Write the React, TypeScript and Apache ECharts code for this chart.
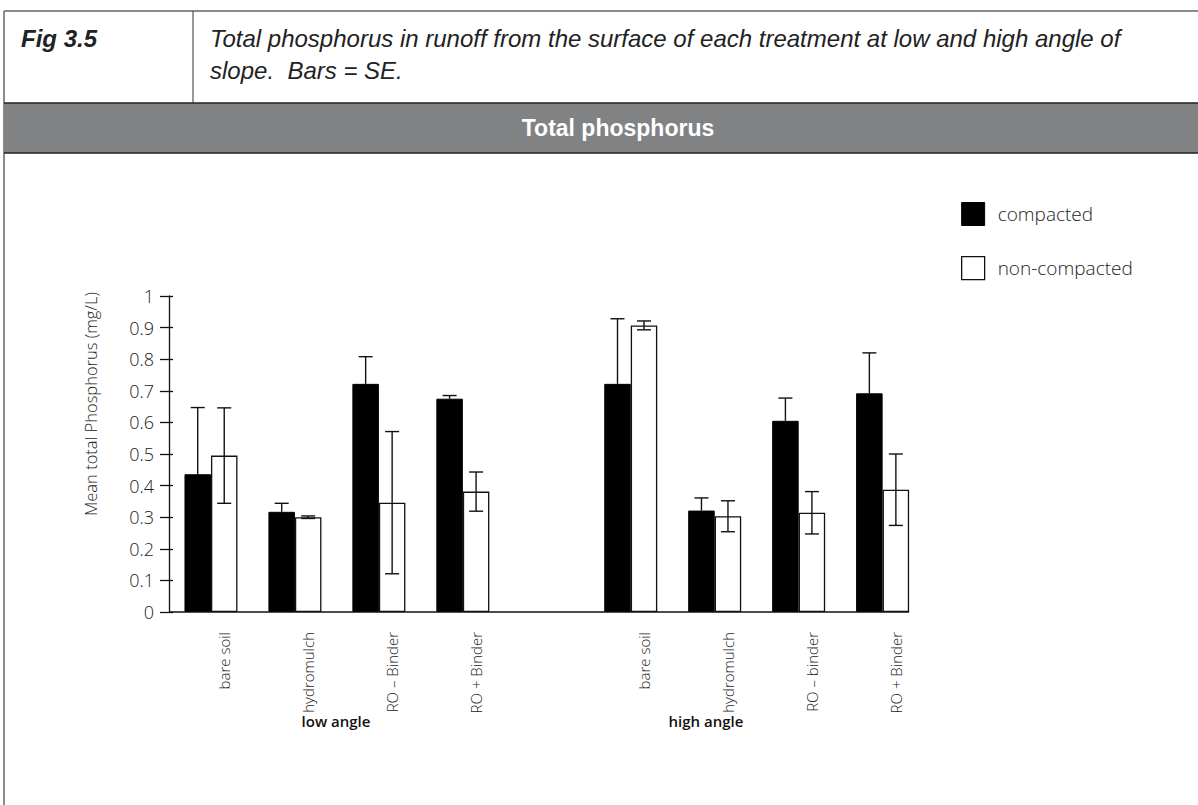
import React, { useEffect, useRef } from "react";
import * as echarts from "echarts";

const categories = ["bare soil", "hydromulch", "RO – Binder", "RO + Binder", "", "bare soil", "hydromulch", "RO – binder", "RO + Binder"];
const compacted = [0.436, 0.317, 0.722, 0.675, null, 0.722, 0.321, 0.605, 0.692];
const seCompacted = [0.211, 0.027, 0.086, 0.010, null, 0.206, 0.040, 0.072, 0.128];
const nonCompacted = [0.495, 0.300, 0.346, 0.381, null, 0.907, 0.303, 0.314, 0.387];
const seNonCompacted = [0.151, 0.004, 0.225, 0.062, null, 0.014, 0.049, 0.067, 0.113];
const seriesNames = ["compacted", "non-compacted"];
const groupLabels = ["low angle", "high angle"];
const yAxisTitle = "Mean total Phosphorus (mg/L)";
const figLabel = "Fig 3.5";
const captionLines = [
  "Total phosphorus in runoff from the surface of each treatment at low and high angle of",
  "slope.  Bars = SE.",
];
const chartTitle = "Total phosphorus";

const BAR_W = 26.5;
const LIGHT = "'Open Sans', 'Noto Sans', sans-serif";
const ARIAL = "'Liberation Sans', Arial, sans-serif";

function errSeries(name: string, vals: (number | null)[], ses: (number | null)[], offset: number, upperOnly: boolean) {
  const data: number[][] = [];
  vals.forEach((v, i) => {
    if (v != null && ses[i] != null) data.push([i, v, ses[i] as number]);
  });
  return {
    type: "custom",
    name,
    z: 10,
    data,
    encode: { x: 0, y: 1 },
    renderItem: (params: any, api: any) => {
      const x = api.value(0);
      const v = api.value(1);
      const se = api.value(2);
      const top = api.coord([x, v + se]);
      const bot = api.coord([x, upperOnly ? v : v - se]);
      const cx = top[0] + offset;
      const cap = 7;
      const st = { stroke: "#111", lineWidth: 1.4 };
      const children: any[] = [
        { type: "line", shape: { x1: cx, y1: top[1], x2: cx, y2: bot[1] }, style: st },
        { type: "line", shape: { x1: cx - cap, y1: top[1], x2: cx + cap, y2: top[1] }, style: st },
      ];
      if (!upperOnly) children.push({ type: "line", shape: { x1: cx - cap, y1: bot[1], x2: cx + cap, y2: bot[1] }, style: st });
      return { type: "group", children };
    },
  };
}

function labelSeries() {
  return {
    type: "custom",
    name: "category-labels",
    z: 10,
    silent: true,
    data: categories.map((c, i) => [i, 0]),
    encode: { x: 0, y: 1 },
    renderItem: (params: any, api: any) => {
      const i = api.value(0);
      const p = api.coord([i, 0]);
      return {
        type: "text",
        x: p[0] + 13,
        y: p[1] + 20,
        rotation: Math.PI / 2,
        style: {
          text: categories[i],
          fontFamily: LIGHT,
          fontSize: 15,
          fontWeight: 300,
          fill: "#222",
          textAlign: "right",
          textVerticalAlign: "middle",
        },
      };
    },
  };
}

export default function App() {
  const ref = useRef<HTMLDivElement>(null);
  useEffect(() => {
    if (!ref.current) return;
    const chart = echarts.init(ref.current, undefined, { renderer: "svg" });
    const yAxisBase = { type: "value", min: 0, max: 1, interval: 0.1, splitLine: { show: false } };
    const option: any = {
      animation: false,
      backgroundColor: "#fff",
      grid: { left: 169, top: 296, width: 755.6, height: 316 },
      legend: {
        orient: "vertical",
        left: 956,
        top: 197,
        itemWidth: 23,
        itemHeight: 23,
        itemGap: 30,
        icon: "rect",
        textStyle: { fontSize: 19, lineHeight: 23, color: "#222", fontFamily: LIGHT, fontWeight: 300, padding: [0, 0, 0, 8] },
        data: [
          { name: seriesNames[0], itemStyle: { color: "#000", borderColor: "#000", borderWidth: 1 } },
          { name: seriesNames[1], itemStyle: { color: "#fff", borderColor: "#111", borderWidth: 1.3 } },
        ],
      },
      xAxis: {
        type: "category",
        data: categories,
        axisLine: { show: false },
        axisTick: { show: false },
        axisLabel: { show: false },
      },
      yAxis: [
        {
          ...yAxisBase,
          axisLine: { show: true, lineStyle: { color: "#111", width: 1.3 } },
          axisTick: { show: true, length: 9, lineStyle: { color: "#111", width: 1.3 } },
          axisLabel: { margin: 15, fontSize: 18, color: "#222", fontFamily: LIGHT, fontWeight: 300 },
        },
        {
          ...yAxisBase,
          position: "left",
          axisLine: { show: false },
          axisTick: { show: true, inside: true, length: 4, lineStyle: { color: "#111", width: 1.3 } },
          axisLabel: { show: false },
        },
      ],
      series: [
        {
          type: "bar",
          name: seriesNames[0],
          data: compacted.map((v) => (v == null ? "-" : v)),
          barWidth: BAR_W,
          barGap: "0%",
          itemStyle: { color: "#000", borderColor: "#000", borderWidth: 1 },
        },
        {
          type: "bar",
          name: seriesNames[1],
          data: nonCompacted.map((v) => (v == null ? "-" : v)),
          barWidth: BAR_W,
          barGap: "0%",
          itemStyle: { color: "#fff", borderColor: "#111", borderWidth: 1.3 },
        },
        errSeries("se-compacted", compacted, seCompacted, -BAR_W / 2, true),
        errSeries("se-non-compacted", nonCompacted, seNonCompacted, BAR_W / 2, false),
        labelSeries(),
      ],
    };
    chart.setOption(option);

    const p0 = chart.convertToPixel({ xAxisIndex: 0 }, 0) as number;
    const p1 = chart.convertToPixel({ xAxisIndex: 0 }, 1) as number;
    const pLast = chart.convertToPixel({ xAxisIndex: 0 }, categories.length - 1) as number;
    const y0 = chart.convertToPixel({ yAxisIndex: 0 }, 0) as number;
    const axisLeft = p0 - (p1 - p0) / 2;
    const axisRight = pLast + BAR_W;

    const graphic: any[] = [
      { type: "line", shape: { x1: 4, y1: 11, x2: 1198, y2: 11 }, style: { stroke: "#666", lineWidth: 1.5 } },
      { type: "line", shape: { x1: 4, y1: 11, x2: 4, y2: 805 }, style: { stroke: "#666", lineWidth: 1.5 } },
      { type: "line", shape: { x1: 193, y1: 11, x2: 193, y2: 103 }, style: { stroke: "#555", lineWidth: 1.2 } },
      { type: "rect", shape: { x: 4, y: 103, width: 1194, height: 50 }, style: { fill: "#818284" } },
      { type: "line", shape: { x1: 4, y1: 103, x2: 1198, y2: 103 }, style: { stroke: "#222", lineWidth: 1.5 } },
      { type: "line", shape: { x1: 4, y1: 153, x2: 1198, y2: 153 }, style: { stroke: "#222", lineWidth: 1.5 } },
      {
        type: "text", x: 21, y: 38,
        style: { text: figLabel, fontFamily: ARIAL, fontSize: 24, fontWeight: "bold", fontStyle: "italic", fill: "#222", textVerticalAlign: "middle" },
      },
      {
        type: "text", x: 210, y: 38,
        style: { text: captionLines[0], fontFamily: ARIAL, fontSize: 24, fontStyle: "italic", fill: "#222", textVerticalAlign: "middle" },
      },
      {
        type: "text", x: 210, y: 70,
        style: { text: captionLines[1], fontFamily: ARIAL, fontSize: 24, fontStyle: "italic", fill: "#222", textVerticalAlign: "middle" },
      },
      {
        type: "text", x: 618, y: 128,
        style: { text: chartTitle, fontFamily: ARIAL, fontSize: 23, fontWeight: "bold", fill: "#fff", textAlign: "center", textVerticalAlign: "middle" },
      },
      {
        type: "text", x: 90, y: 404, rotation: Math.PI / 2,
        style: { text: yAxisTitle, fontFamily: LIGHT, fontSize: 16.5, fontWeight: 300, fill: "#222", textAlign: "center", textVerticalAlign: "middle" },
      },
      {
        type: "text", x: 336, y: 721,
        style: { text: groupLabels[0], fontFamily: LIGHT, fontSize: 15, fontWeight: 600, fill: "#111", textAlign: "center", textVerticalAlign: "middle" },
      },
      {
        type: "text", x: 706, y: 721,
        style: { text: groupLabels[1], fontFamily: LIGHT, fontSize: 15, fontWeight: 600, fill: "#111", textAlign: "center", textVerticalAlign: "middle" },
      },
      {
        type: "line", z: 20,
        shape: { x1: axisLeft, y1: y0, x2: axisRight, y2: y0 },
        style: { stroke: "#111", lineWidth: 1.3 },
      },
    ];
    chart.setOption({ graphic });
    return () => chart.dispose();
  }, []);
  return <div ref={ref} style={{ position: "fixed", left: 0, top: 0, width: 1198, height: 805 }} />;
}
